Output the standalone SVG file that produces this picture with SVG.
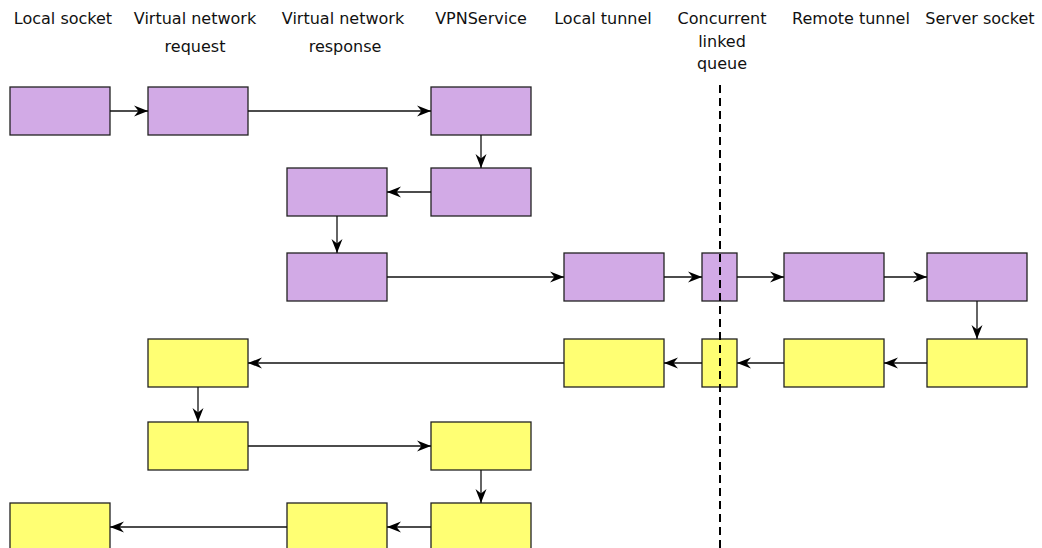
<svg xmlns="http://www.w3.org/2000/svg" width="1042" height="548" viewBox="0 0 1042 548">
  <style>
    .lbl { font-family: "DejaVu Sans", Verdana, sans-serif; font-size: 16px; fill: #111; text-anchor: middle; }
    .req rect { fill: #D2AAE6; stroke: #222; stroke-width: 1.3; }
    .res rect { fill: #FFFF73; stroke: #222; stroke-width: 1.3; }
    .edge { stroke: #111; stroke-width: 1.3; fill: none; marker-end: url(#arrow); }
    .divider { stroke: #000; stroke-width: 2; stroke-dasharray: 8 5; }
  </style>
  <defs>
    <marker id="arrow" markerUnits="userSpaceOnUse" markerWidth="16" markerHeight="14" refX="14" refY="7" orient="auto">
      <path d="M0,1.5 L14,7 L0,12.5 L4.5,7 Z" fill="#000"/>
    </marker>
  </defs>
  <rect width="1042" height="548" fill="#fff"/>

  <!-- column headings -->
  <g id="headings">
    <text class="lbl" x="63" y="24">Local socket</text>
    <text class="lbl" x="195" y="24">Virtual network</text>
    <text class="lbl" x="195" y="52">request</text>
    <text class="lbl" x="343" y="24">Virtual network</text>
    <text class="lbl" x="345" y="52">response</text>
    <text class="lbl" x="481" y="24">VPNService</text>
    <text class="lbl" x="603" y="24">Local tunnel</text>
    <text class="lbl" x="722" y="24">Concurrent</text>
    <text class="lbl" x="722" y="46.5">linked</text>
    <text class="lbl" x="722" y="68.5">queue</text>
    <text class="lbl" x="851" y="24">Remote tunnel</text>
    <text class="lbl" x="980" y="24">Server socket</text>
  </g>

  <!-- request path (purple) -->
  <g id="n-req-local" class="req"><rect x="10" y="87" width="100" height="48"/></g>
  <g id="n-req-vreq" class="req"><rect x="148" y="87" width="100" height="48"/></g>
  <g id="n-req-vpn1" class="req"><rect x="431" y="87" width="100" height="48"/></g>
  <g id="n-req-vpn2" class="req"><rect x="431" y="168" width="100" height="48"/></g>
  <g id="n-req-vres1" class="req"><rect x="287" y="168" width="100" height="48"/></g>
  <g id="n-req-vres2" class="req"><rect x="287" y="253" width="100" height="48"/></g>
  <g id="n-req-ltun" class="req"><rect x="564" y="253" width="100" height="48"/></g>
  <g id="n-req-queue" class="req"><rect x="702" y="253" width="35" height="48"/></g>
  <g id="n-req-rtun" class="req"><rect x="784" y="253" width="100" height="48"/></g>
  <g id="n-req-server" class="req"><rect x="927" y="253" width="100" height="48"/></g>

  <!-- response path (yellow) -->
  <g id="n-res-server" class="res"><rect x="927" y="339" width="100" height="48"/></g>
  <g id="n-res-rtun" class="res"><rect x="784" y="339" width="100" height="48"/></g>
  <g id="n-res-queue" class="res"><rect x="702" y="339" width="35" height="48"/></g>
  <g id="n-res-ltun" class="res"><rect x="564" y="339" width="100" height="48"/></g>
  <g id="n-res-vreq1" class="res"><rect x="148" y="339" width="100" height="48"/></g>
  <g id="n-res-vreq2" class="res"><rect x="148" y="422" width="100" height="48"/></g>
  <g id="n-res-vpn1" class="res"><rect x="431" y="422" width="100" height="48"/></g>
  <g id="n-res-vpn2" class="res"><rect x="431" y="503" width="100" height="48"/></g>
  <g id="n-res-vres" class="res"><rect x="287" y="503" width="100" height="48"/></g>
  <g id="n-res-local" class="res"><rect x="10" y="503" width="100" height="48"/></g>

  <!-- thread boundary -->
  <line class="divider" x1="720" y1="85" x2="720" y2="548"/>

  <g id="connectors">
    <line class="edge" x1="110" y1="111" x2="148" y2="111"/>
    <line class="edge" x1="248" y1="111" x2="431" y2="111"/>
    <line class="edge" x1="481" y1="135" x2="481" y2="168"/>
    <line class="edge" x1="431" y1="192" x2="387" y2="192"/>
    <line class="edge" x1="337" y1="216" x2="337" y2="253"/>
    <line class="edge" x1="387" y1="277" x2="564" y2="277"/>
    <line class="edge" x1="664" y1="277" x2="702" y2="277"/>
    <line class="edge" x1="737" y1="277" x2="784" y2="277"/>
    <line class="edge" x1="884" y1="277" x2="927" y2="277"/>
    <line class="edge" x1="977" y1="301" x2="977" y2="339"/>
    <line class="edge" x1="927" y1="363" x2="884" y2="363"/>
    <line class="edge" x1="784" y1="363" x2="737" y2="363"/>
    <line class="edge" x1="702" y1="363" x2="664" y2="363"/>
    <line class="edge" x1="564" y1="363" x2="248" y2="363"/>
    <line class="edge" x1="198" y1="387" x2="198" y2="422"/>
    <line class="edge" x1="248" y1="446" x2="431" y2="446"/>
    <line class="edge" x1="481" y1="470" x2="481" y2="503"/>
    <line class="edge" x1="431" y1="527" x2="387" y2="527"/>
    <line class="edge" x1="287" y1="527" x2="110" y2="527"/>
  </g>
</svg>
